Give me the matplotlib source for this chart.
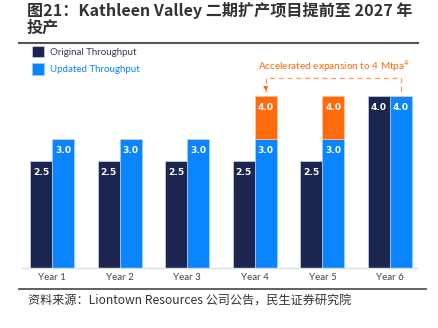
import matplotlib
matplotlib.use("Agg")
import matplotlib.pyplot as plt
from matplotlib.patches import Patch
from matplotlib.lines import Line2D

plt.rcParams['font.family'] = ['Noto Sans CJK SC', 'DejaVu Sans']

# data
years = ["Year 1", "Year 2", "Year 3", "Year 4", "Year 5", "Year 6"]
original = [2.5, 2.5, 2.5, 2.5, 2.5, 4.0]
updated = [3.0, 3.0, 3.0, 3.0, 3.0, 4.0]
accelerated = [0, 0, 0, 1.0, 1.0, 0]   # orange top-up to 4 Mtpa

title_1 = "图21：Kathleen Valley 二期扩产项目提前至 2027 年"
title_2 = "投产"
source = "资料来源：Liontown Resources 公司公告，民生证券研究院"
note = "Accelerated expansion to 4 Mtpa$^4$"

navy = "#1b2550"
blue = "#0a84ff"
orange = "#ff6a0d"
latin = ["Lato", "DejaVu Sans"]

W, H = 439, 328
fig = plt.figure(figsize=(W / 100, H / 100), dpi=100)

# header / footer
fig.text(27 / W, 1 - 10 / H, title_1, fontsize=11.6, fontweight="bold",
         color="#333333", va="center", ha="left")
fig.text(27 / W, 1 - 28 / H, title_2, fontsize=11.6, fontweight="bold",
         color="#333333", va="center", ha="left")
fig.add_artist(Line2D([19 / W, 418 / W], [1 - 43 / H, 1 - 43 / H],
                      color="#555555", lw=1.5))
fig.add_artist(Line2D([19 / W, 426 / W], [1 - 289 / H, 1 - 289 / H],
                      color="#555555", lw=1.3))
fig.text(28 / W, 1 - 301 / H, source, fontsize=8.7, color="#333333",
         va="center", ha="left")

ax = fig.add_axes([18.2 / W, (H - 268) / H, 405.6 / W, 215 / H])
ax.set_xlim(-0.5, 5.5)
ax.set_ylim(0, 5)
ax.axis("off")

x = list(range(len(years)))
bw = 0.325
xo = [i - bw / 2 for i in x]
xu = [i + bw / 2 for i in x]

ax.bar(xo, original, bw, color=navy, edgecolor="#c9d3f0", lw=0.5)
ax.bar(xu, updated, bw, color=blue, edgecolor="#9fd0ff", lw=0.5)
ax.bar(xu, accelerated, bw, bottom=updated, color=orange,
       edgecolor="#ffc79f", lw=0.5)

lab = dict(color="white", fontsize=6.6, fontweight="bold",
           ha="center", va="top", family="DejaVu Sans")
for i in x:
    ax.text(xo[i], original[i] - 0.17, f"{original[i]:.1f}", **lab)
    ax.text(xu[i], updated[i] - 0.17, f"{updated[i]:.1f}", **lab)
    if accelerated[i]:
        top = updated[i] + accelerated[i]
        ax.text(xu[i], top - 0.17, f"{top:.1f}", **lab)

ax.plot([-0.45, 5.4], [0, 0], color="#dddddd", lw=1, clip_on=False)
for i in x:
    ax.text(i, -0.12, years[i], ha="center", va="top", fontsize=7,
            color="#444444", family=latin)

# orange dashed bracket
y_top = 4.0 + 0.42
ax.plot([xu[3], xu[3], xu[5], xu[5]], [4.1, y_top, y_top, 4.0],
        color="#ff9a5a", lw=0.9, ls=(0, (4, 3)), clip_on=False)
ax.annotate("", xy=(xu[3], 4.05), xytext=(xu[3], 4.25),
            arrowprops=dict(arrowstyle="-|>", color=orange, lw=0.8,
                            mutation_scale=6))
ax.text((xu[3] + xu[5]) / 2, y_top + 0.28, note, ha="center", va="center",
        fontsize=7.2, color=orange, family=latin)

# legend
handles = [Patch(facecolor=navy, edgecolor="#c9d3f0", lw=0.5),
           Patch(facecolor=blue, edgecolor="#9fd0ff", lw=0.5)]
leg = fig.legend(handles, ["Original Throughput", "Updated Throughput"],
                 loc="upper left", bbox_to_anchor=(23 / W, 1 - 37 / H),
                 frameon=False, fontsize=7, handlelength=1.3,
                 handleheight=1.4, labelspacing=0.65, handletextpad=0.6)
leg.get_texts()[0].set_color("#333a55")
leg.get_texts()[1].set_color(blue)
for t in leg.get_texts():
    t.set_family(latin)

fig.savefig("out.png", dpi=100)
